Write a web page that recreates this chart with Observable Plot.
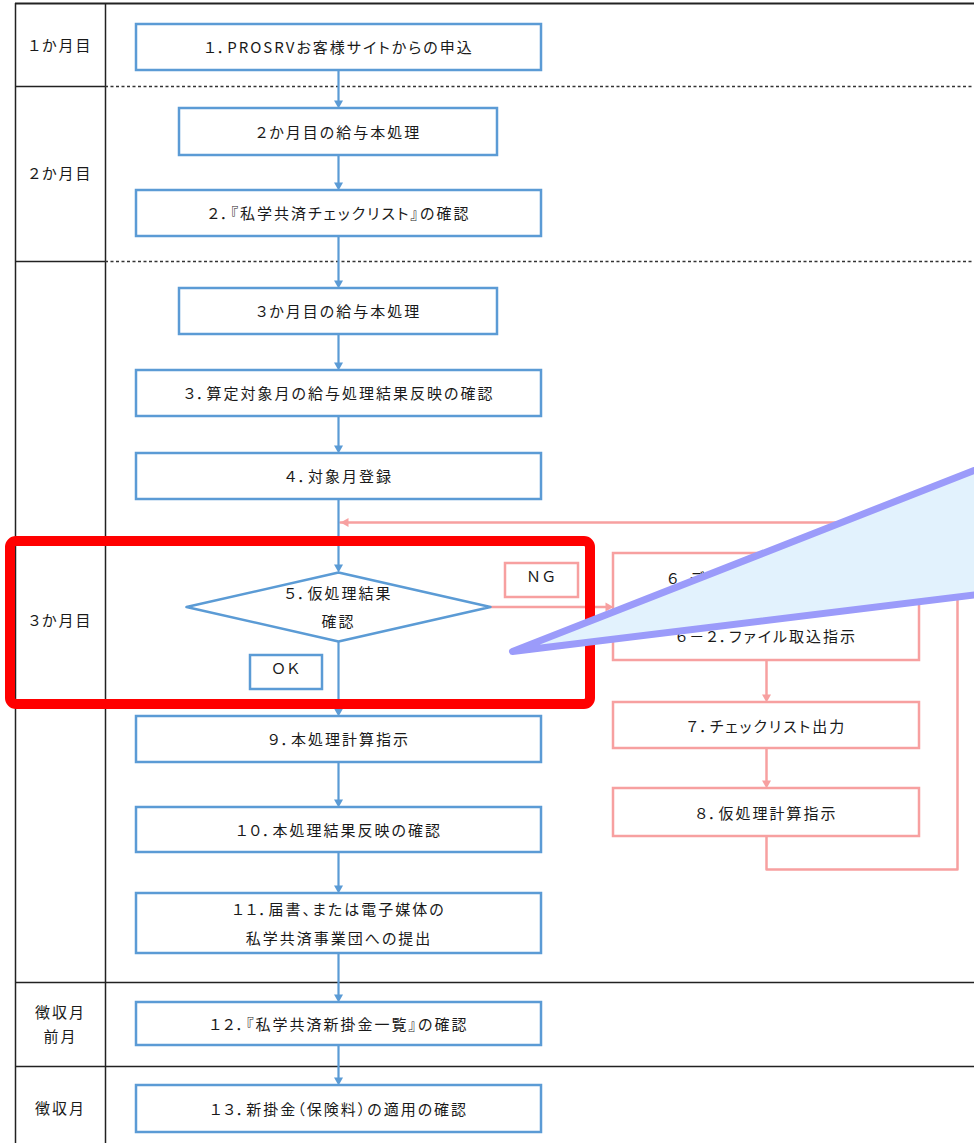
<!DOCTYPE html>
<html>
<head>
<meta charset="utf-8">
<script src="https://cdn.jsdelivr.net/npm/d3@7"></script>
<script src="https://cdn.jsdelivr.net/npm/@observablehq/plot@0.6"></script>
<style>
  html, body { margin: 0; padding: 0; background: #fff; overflow: hidden; }
  #chart svg { overflow: hidden !important; display: block; }
  #chart text { font-feature-settings: "palt"; letter-spacing: 2px; }
</style>
</head>
<body>
<div id="chart"></div>
<script>
// ---------- swim lanes (left column) ----------
const laneLabels = ["１か月目", "２か月目", "３か月目", "徴収月\n前月", "徴収月"];
const laneLabelY = [45, 173, 620, 1024, 1108];
const monthBoundaries = [86, 261];      // dotted separators
const phaseBoundaries = [982, 1066];    // solid separators

// ---------- main flow (blue) ----------
const mainLabels = [
  "１．PROSRVお客様サイトからの申込",
  "２か月目の給与本処理",
  "２．『私学共済チェックリスト』の確認",
  "３か月目の給与本処理",
  "３．算定対象月の給与処理結果反映の確認",
  "４．対象月登録",
  "９．本処理計算指示",
  "１０．本処理結果反映の確認",
  "１１．届書、または電子媒体の\n私学共済事業団への提出",
  "１２．『私学共済新掛金一覧』の確認",
  "１３．新掛金（保険料）の適用の確認"
];
const mainTop    = [24, 108, 190, 288, 370, 453, 716, 807, 893, 1002, 1085];
const mainBottom = [70, 155, 236, 334, 416, 499, 762, 852, 953, 1045, 1132];
const mainNarrow = [false, true, false, true, false, false, false, false, false, false, false];

// decision
const decisionLabel = "５．仮処理結果\n確認";
const decisionTop = 572, decisionBottom = 641, decisionLeft = 186, decisionRight = 490;
const okLabel = "ＯＫ", ngLabel = "ＮＧ";

// ---------- sub flow (pink) ----------
const subLabels = [
  "６．データ取込ファイル作成\n６－１．取込\n６－２．ファイル取込指示",
  "７．チェックリスト出力",
  "８．仮処理計算指示"
];
const subTop    = [553, 702, 788];
const subBottom = [660, 748, 836];

// ---------- layout constants ----------
const flowX = 338;
const wideX = [136, 541], narrowX = [179, 497], subX = [613, 919];
const subCX = (subX[0] + subX[1]) / 2;
const loopBottomY = 869, loopRightX = 957, loopReturnY = 522;
const BLUE = "#5B9BD5", PINK = "#F7A0A0", INK = "#1a1a1a", LINE = "#222";
const TDY = -3;

// ---------- derived tables ----------
const mainNodes = mainLabels.map((label, i) => ({
  label,
  x1: mainNarrow[i] ? narrowX[0] : wideX[0],
  x2: mainNarrow[i] ? narrowX[1] : wideX[1],
  y1: mainTop[i], y2: mainBottom[i]
}));
const subNodes = subLabels.map((label, i) => ({label, x1: subX[0], x2: subX[1], y1: subTop[i], y2: subBottom[i]}));

// blue vertical flow: node bottoms -> next tops (decision inserted after node 6)
const flowStops = [];
mainNodes.forEach((n, i) => {
  flowStops.push({top: n.y1, bottom: n.y2});
  if (i === 5) flowStops.push({top: decisionTop, bottom: decisionBottom});
});
const HL = 8, HW = 4.5;
const blueLinks = [];
for (let i = 1; i < flowStops.length; i++) {
  blueLinks.push({x1: flowX, y1: flowStops[i - 1].bottom, x2: flowX, y2: flowStops[i].top, dir: "down"});
}
const decisionCY = (decisionTop + decisionBottom) / 2;
const pinkLinks = [
  {x1: decisionRight, y1: decisionCY, x2: subX[0], y2: decisionCY, dir: "right"},
  {x1: subCX, y1: subBottom[0], x2: subCX, y2: subTop[1], dir: "down"},
  {x1: subCX, y1: subBottom[1], x2: subCX, y2: subTop[2], dir: "down"}
];
const loopPts = [
  {x: subCX, y: subBottom[2]}, {x: subCX, y: loopBottomY},
  {x: loopRightX, y: loopBottomY}, {x: loopRightX, y: loopReturnY},
  {x: flowX + 2, y: loopReturnY}
];
const pinkHeads = [...pinkLinks, {x2: flowX + 2, y2: loopReturnY, dir: "left"}];

function heads(list) {
  const pts = [];
  list.forEach((l, k) => {
    const x = l.x2, y = l.y2;
    let tri;
    if (l.dir === "down") tri = [[x - HW, y - HL], [x + HW, y - HL], [x, y]];
    else if (l.dir === "right") tri = [[x - HL, y - HW], [x - HL, y + HW], [x, y]];
    else tri = [[x + HL, y - HW], [x + HL, y + HW], [x, y]];
    tri.forEach(([px, py]) => pts.push({id: k, x: px, y: py}));
  });
  return pts;
}
// shorten link ends so the line stops under the head
const trim = (l) => ({...l,
  x2: l.dir === "right" ? l.x2 - HL + 1 : l.dir === "left" ? l.x2 + HL - 1 : l.x2,
  y2: l.dir === "down" ? l.y2 - HL + 1 : l.y2});

const diamondPts = [
  {x: flowX, y: decisionTop}, {x: decisionRight, y: decisionCY},
  {x: flowX, y: decisionBottom}, {x: decisionLeft, y: decisionCY},
  {x: flowX, y: decisionTop}
];
const okBox = {x1: 250, x2: 322, y1: 655, y2: 689, label: okLabel};
const ngBox = {x1: 505, x2: 578, y1: 563, y2: 597, label: ngLabel};
const highlight = {x1: 10, x2: 590, y1: 541, y2: 704};
const calloutPts = [{x: 994, y: 462}, {x: 512, y: 651}, {x: 994, y: 592}];

const chart = Plot.plot({
  width: 974, height: 1143, margin: 0,
  x: {domain: [0, 974], range: [0, 974], axis: null},
  y: {domain: [0, 1143], range: [0, 1143], axis: null},
  style: {fontFamily: "'Noto Sans CJK JP', 'Noto Sans', sans-serif", background: "white", overflow: "hidden"},
  marks: [
    // table frame
    Plot.ruleY([3], {x1: 15, x2: 980, stroke: LINE, strokeWidth: 2}),
    Plot.ruleX([15, 105], {y1: 3, y2: 1150, stroke: LINE, strokeWidth: 1.5}),
    Plot.ruleY(monthBoundaries, {x1: 15, x2: 105, stroke: LINE, strokeWidth: 1.5}),
    Plot.ruleY(monthBoundaries, {x1: 105, x2: 980, stroke: "#333", strokeWidth: 1.5, strokeDasharray: "3,2.5"}),
    Plot.ruleY(phaseBoundaries, {x1: 15, x2: 980, stroke: LINE, strokeWidth: 1.5}),
    Plot.text(laneLabels, {x: 60, y: (d, i) => laneLabelY[i], text: d => d, fontSize: 15, fill: INK, lineHeight: 1.55, dy: -2}),

    // connectors
    Plot.line(loopPts, {x: "x", y: "y", stroke: PINK, strokeWidth: 2.5}),
    Plot.link(pinkLinks.map(trim), {x1: "x1", y1: "y1", x2: "x2", y2: "y2", stroke: PINK, strokeWidth: 2.5}),
    Plot.line(heads(pinkHeads), {x: "x", y: "y", z: "id", fill: PINK, stroke: "none"}),
    Plot.link(blueLinks.map(trim), {x1: "x1", y1: "y1", x2: "x2", y2: "y2", stroke: BLUE, strokeWidth: 2.2}),
    Plot.line(heads(blueLinks), {x: "x", y: "y", z: "id", fill: BLUE, stroke: "none"}),

    // boxes
    Plot.rect(mainNodes, {x1: "x1", x2: "x2", y1: "y1", y2: "y2", fill: "white", stroke: BLUE, strokeWidth: 2.5}),
    Plot.rect([okBox], {x1: "x1", x2: "x2", y1: "y1", y2: "y2", fill: "white", stroke: BLUE, strokeWidth: 2.5}),
    Plot.rect(subNodes, {x1: "x1", x2: "x2", y1: "y1", y2: "y2", fill: "white", stroke: PINK, strokeWidth: 2.5}),
    Plot.rect([ngBox], {x1: "x1", x2: "x2", y1: "y1", y2: "y2", fill: "white", stroke: PINK, strokeWidth: 2.5}),
    Plot.line(diamondPts, {x: "x", y: "y", fill: "white", stroke: BLUE, strokeWidth: 2.5}),

    // labels
    Plot.text(mainNodes, {x: d => (d.x1 + d.x2) / 2, y: d => (d.y1 + d.y2) / 2, text: "label", fontSize: 15, fill: INK, lineHeight: 1.87, dy: TDY}),
    Plot.text(subNodes, {x: d => (d.x1 + d.x2) / 2, y: d => (d.y1 + d.y2) / 2, text: "label", fontSize: 15, fill: INK, lineHeight: 1.93, dy: TDY}),
    Plot.text([okBox, ngBox], {x: d => (d.x1 + d.x2) / 2, y: d => (d.y1 + d.y2) / 2, text: "label", fontSize: 15, fill: INK, dy: TDY}),
    Plot.text([decisionLabel], {x: flowX, y: decisionCY, text: d => d, fontSize: 15, fill: INK, lineHeight: 1.87, dy: TDY}),

    // highlight frame
    Plot.rect([highlight], {x1: "x1", x2: "x2", y1: "y1", y2: "y2", fill: "none", stroke: "#FF0000", strokeWidth: 10, rx: 6}),

    // callout pointer
    Plot.line(calloutPts, {x: "x", y: "y", fill: "#E2F2FD", stroke: "#9B9BFA", strokeWidth: 7, strokeLinejoin: "round", strokeLinecap: "round"})
  ]
});
document.getElementById("chart").appendChild(chart);
</script>
</body>
</html>
